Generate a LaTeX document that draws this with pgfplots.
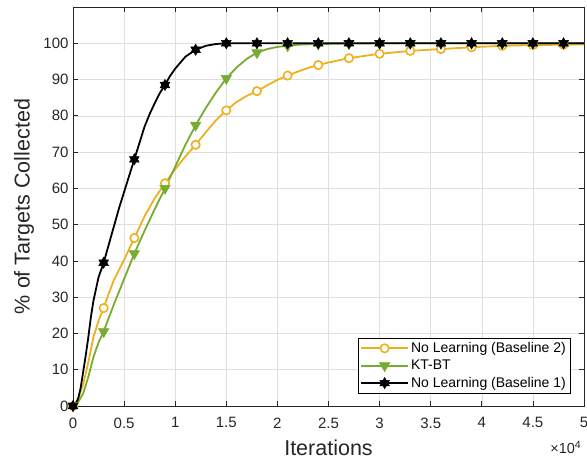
\documentclass[border=0pt]{standalone}
\usepackage{pgfplots}
\pgfplotsset{compat=1.18}
\usepackage{fontspec}
\setmainfont{Liberation Sans}
\definecolor{orange2}{RGB}{237,177,32}
\definecolor{green2}{RGB}{119,172,48}
\definecolor{axgray}{RGB}{38,38,38}
\definecolor{gridgray}{RGB}{223,223,223}
\pgfdeclareplotmark{hexagram}{%
  \pgfpathmoveto{\pgfqpointpolar{90}{\pgfplotmarksize}}%
  \pgfpathlineto{\pgfqpointpolar{210}{\pgfplotmarksize}}%
  \pgfpathlineto{\pgfqpointpolar{330}{\pgfplotmarksize}}%
  \pgfpathclose
  \pgfpathmoveto{\pgfqpointpolar{270}{\pgfplotmarksize}}%
  \pgfpathlineto{\pgfqpointpolar{30}{\pgfplotmarksize}}%
  \pgfpathlineto{\pgfqpointpolar{150}{\pgfplotmarksize}}%
  \pgfpathclose
  \pgfusepathqfillstroke
}
\begin{document}
\begin{tikzpicture}
\begin{axis}[
  name=ax,
  scale only axis,
  width=511pt, height=399pt,
  xmin=0, xmax=50000, ymin=0, ymax=110,
  clip=false,
  xtick={0,5000,...,50000},
  xticklabels={0,0.5,1,1.5,2,2.5,3,3.5,4,4.5,5},
  scaled x ticks=false,
  ytick={0,10,...,100},
  grid=major,
  major grid style={gridgray, line width=0.6pt},
  axis line style={axgray, line width=0.8pt},
  major tick style={axgray, line width=0.8pt},
  major tick length=5pt,
  tick align=inside,
  /pgf/number format/assume math mode=true,
  tick label style={font=\fontsize{15}{17}\selectfont, text=axgray},
  xticklabel style={yshift=-8pt},
  yticklabel style={xshift=-1pt},
  every axis x label/.style={at={(axis description cs:0.5,-0.105)}, anchor=center},
  every axis y label/.style={at={(axis description cs:-0.096,0.5)}, rotate=90, anchor=center},
  label style={font=\fontsize{21.5}{24}\selectfont, text=axgray},
  xlabel={Iterations},
  ylabel={\% of Targets Collected},
  legend style={at={(0.973,0.032)}, anchor=south east, draw=black, line width=0.6pt,
    font=\fontsize{14}{17}\selectfont, fill=white, inner sep=2pt, row sep=2pt},
  legend cell align=left,
]
% Baseline 2 (orange)
\addplot[orange2, line width=1.8pt, no marks, forget plot] coordinates {
(0,0) (500,2) (1000,6) (1500,12) (2000,19) (2500,23.5) (3000,27) (3500,31) (4000,34.7) (4500,37.5) (5000,40.3) (5500,43.3) (6000,46.3) (7000,52.3) (8000,57.3) (9000,61.4) (10000,65.3) (11000,68.8) (12000,72) (13000,75.5) (14000,78.8) (15000,81.5) (16000,83.8) (17000,85.5) (18000,86.8) (19000,88.4) (20000,89.9) (21000,91.1) (22000,92.2) (23000,93.2) (24000,94.0) (25000,94.7) (26000,95.3) (27000,95.9) (30000,97.1) (33000,97.9) (36000,98.4) (39000,98.9) (42000,99.3) (45000,99.5) (48000,99.6) (50000,99.7)
};
\addplot[orange2, only marks, mark=*, mark size=4.2pt, mark options={fill=white, draw=orange2, line width=1.6pt},
  legend image code/.code={\draw[orange2, line width=1.8pt] (0pt,0pt) -- (47pt,0pt);
    \draw[orange2, fill=white, line width=1.6pt] plot[mark=*, mark size=4.2pt] coordinates {(23.5pt,0pt)};}] coordinates {
(0,0) (3000,27) (6000,46.3) (9000,61.4) (12000,72) (15000,81.5) (18000,86.8) (21000,91.1) (24000,94.0) (27000,95.9) (30000,97.1) (33000,97.9) (36000,98.4) (39000,98.9) (42000,99.3) (45000,99.5) (48000,99.6)
};
\addlegendentry{No Learning (Baseline 2)}
% KT-BT (green)
\addplot[green2, line width=1.8pt, no marks, forget plot] coordinates {
(0,0) (500,1) (1000,3.5) (1500,8) (2000,13.5) (2500,17.5) (3000,20.5) (3500,24.3) (4000,28) (4500,31.5) (5000,35) (5500,38.5) (6000,42) (7000,48.3) (8000,54.3) (9000,60) (10000,66) (11000,72) (12000,77.4) (13000,82.2) (14000,86.5) (15000,90.3) (16000,93.3) (17000,95.7) (18000,97.4) (19000,98.4) (20000,99) (21000,99.3) (22000,99.6) (24000,99.8) (27000,99.9) (30000,100) (50000,100)
};
\addplot[green2, only marks, mark=triangle*, mark size=6pt, mark options={fill=green2, draw=green2, rotate=180, line width=0.5pt},
  legend image code/.code={\draw[green2, line width=1.8pt] (0pt,0pt) -- (47pt,0pt);
    \draw[green2, fill=green2, line width=0.5pt] plot[mark=triangle*, mark size=6pt, mark options={rotate=180}] coordinates {(23.5pt,0pt)};}] coordinates {
(0,0) (3000,20.5) (6000,42) (9000,60) (12000,77.4) (15000,90.3) (18000,97.4) (21000,99.3) (24000,99.8) (27000,99.9) (30000,100) (33000,100) (36000,100) (39000,100) (42000,100) (45000,100) (48000,100)
};
\addlegendentry{KT-BT}
% Baseline 1 (black)
\addplot[black, line width=1.8pt, no marks, forget plot] coordinates {
(0,0) (250,0.5) (500,2) (750,5) (1000,9.5) (1250,14) (1500,19) (1750,24.5) (2000,29) (2500,35.5) (3000,39.5) (3500,44.5) (4000,49.5) (4500,54.5) (5000,59) (5500,63.5) (6000,68) (6500,72.5) (7000,77) (7500,80.5) (8000,83.5) (8500,86.3) (9000,88.5) (9500,91) (10000,93) (11000,96.3) (12000,98.2) (13000,99.3) (14000,99.8) (15000,100) (50000,100)
};
\addplot[black, only marks, mark=hexagram, mark size=5.6pt, mark options={fill=black, draw=black, line width=0.5pt},
  legend image code/.code={\draw[black, line width=1.8pt] (0pt,0pt) -- (47pt,0pt);
    \draw[black, fill=black, line width=0.5pt] plot[mark=hexagram, mark size=5.6pt] coordinates {(23.5pt,0pt)};}] coordinates {
(0,0) (3000,39.5) (6000,68) (9000,88.5) (12000,98.2) (15000,100) (18000,100) (21000,100) (24000,100) (27000,100) (30000,100) (33000,100) (36000,100) (39000,100) (42000,100) (45000,100) (48000,100)
};
\addlegendentry{No Learning (Baseline 1)}
\end{axis}
\node[anchor=north east, text=axgray, inner sep=0pt] at ([xshift=-3pt,yshift=-35pt]ax.south east)
  {\fontsize{14.5}{16}\selectfont ×10\raisebox{0.6ex}{\fontsize{10.5}{11}\selectfont 4}};
\pgfresetboundingbox
\path ([xshift=-73pt,yshift=-53pt]ax.south west) rectangle ([xshift=3pt,yshift=7pt]ax.north east);
\end{tikzpicture}
\end{document}
